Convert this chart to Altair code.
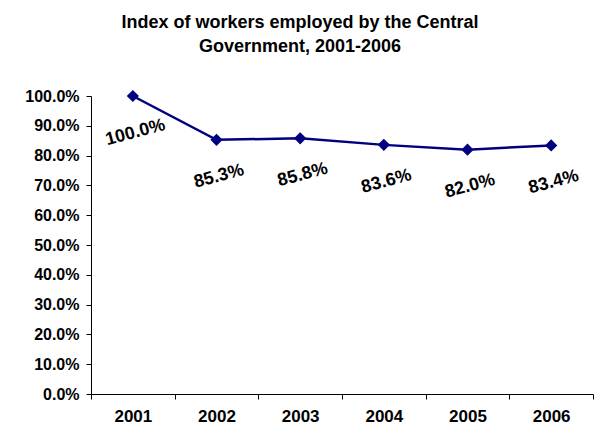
import altair as alt
import pandas as pd

years = ["2001", "2002", "2003", "2004", "2005", "2006"]
values = [1.000, 0.853, 0.858, 0.836, 0.820, 0.834]

df = pd.DataFrame({"year": years, "value": values})

FONT = "Liberation Sans"
NAVY = "#000080"

base = alt.Chart(df).encode(
    x=alt.X("year:N", sort=years, title=None,
            scale=alt.Scale(paddingInner=0, paddingOuter=0),
            axis=alt.Axis(labelAngle=0, labelFont=FONT, labelFontSize=17, labelFontWeight="bold",
                          labelColor="black", labelPadding=9, tickBand="extent", tickSize=5,
                          domainColor="black", tickColor="black", grid=False)),
    y=alt.Y("value:Q", title=None,
            scale=alt.Scale(domain=[0, 1], nice=False),
            axis=alt.Axis(format=".1%", values=[i / 10 for i in range(11)], labelFont=FONT,
                          labelFontSize=16, labelFontWeight="bold", labelColor="black",
                          labelPadding=7, tickSize=5, domainColor="black", tickColor="black",
                          grid=False)),
)

line = base.mark_line(color=NAVY, strokeWidth=2.5)
pts = base.mark_point(shape="diamond", filled=True, color=NAVY, size=150, opacity=1)
labels = base.mark_text(font=FONT, fontSize=18, fontWeight="bold", color="black",
                        angle=345, dy=36, dx=-7).encode(
    text=alt.Text("value:Q", format=".1%"))

chart = alt.layer(line, pts, labels).properties(
    width=502, height=298,
    title=alt.TitleParams(["Index of workers employed by the Central", "Government, 2001-2006"],
                          font=FONT, fontSize=18, fontWeight="bold", color="black",
                          anchor="middle", dx=-42, offset=32, lineHeight=24),
    autosize=alt.AutoSizeParams(type="none"),
    padding={"left": 83, "top": 88, "right": 2, "bottom": 36},
).configure_view(stroke=None)

chart.save("out.html", embed_options={"renderer": "svg", "actions": False})
